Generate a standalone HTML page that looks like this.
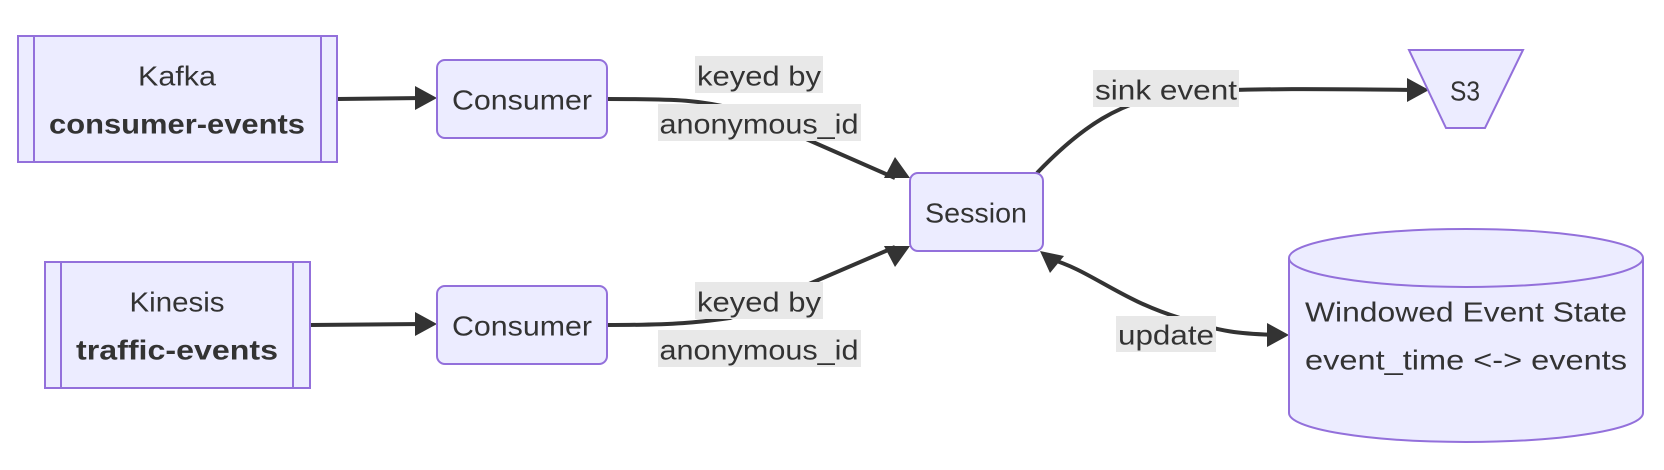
<!DOCTYPE html>
<html><head><meta charset="utf-8"><style>
html,body{margin:0;padding:0;background:#fff;}
svg{display:block;}
text{font-family:"Liberation Sans","DejaVu Sans",sans-serif;font-size:28px;fill:#333;}
</style></head><body>
<svg width="1664" height="470" viewBox="0 0 1664 470" xmlns="http://www.w3.org/2000/svg">
<g fill="none" stroke="#333" stroke-width="4">
<path d="M337,99 L424,98" />
<path d="M310,325 L424,324" />
<path d="M607,99 C680,99 700,100 740,110 L895,178" />
<path d="M607,325 C680,325 700,322 730,318 L895,247" />
<path d="M1037,173 C1080,128 1120,100 1180,92 C1260,88 1330,89 1414,90" />
<path d="M1279,335 C1240,334 1220,332 1180,318 C1120,300 1090,270 1050,259" />
</g>
<g fill="#333">
<polygon points="437,98 415,86 415,110"/>
<polygon points="437,324 415,312 415,336"/>
<polygon points="910,178 884,178 895,157"/>
<polygon points="910,246 895,267 884,246"/>
<polygon points="1429,90 1407,78 1407,102"/>
<polygon points="1289,335 1267,323 1267,347"/>
<polygon points="1040,251 1064,256 1050,273"/>
</g>
<g fill="#ECECFF" stroke="#9370DB" stroke-width="2">
<rect x="18" y="36" width="319" height="126"/>
<line x1="34" y1="36" x2="34" y2="162"/><line x1="321" y1="36" x2="321" y2="162"/>
<rect x="45" y="262" width="265" height="126"/>
<line x1="61" y1="262" x2="61" y2="388"/><line x1="293" y1="262" x2="293" y2="388"/>
<rect x="437" y="60" width="170" height="78" rx="8"/>
<rect x="437" y="286" width="170" height="78" rx="8"/>
<rect x="910" y="173" width="133" height="78" rx="8"/>
<polygon points="1409,50 1523,50 1485,128 1446,128"/>
<path d="M1289,258 L1289,413 A177,29 0 0 0 1643,413 L1643,258 A177,29 0 0 0 1289,258 A177,29 0 0 0 1643,258"/>
</g>
<g fill="#e8e8e8">
<rect x="695" y="56" width="128" height="37"/>
<rect x="658" y="104" width="203" height="37"/>
<rect x="695" y="282" width="128" height="37"/>
<rect x="658" y="330" width="203" height="37"/>
<rect x="1093" y="70" width="146" height="37"/>
<rect x="1116" y="316" width="100" height="36"/>
</g>
<g text-anchor="middle" dominant-baseline="central">
<text x="177" y="76" textLength="78" lengthAdjust="spacingAndGlyphs">Kafka</text>
<text x="177" y="124" font-weight="bold" textLength="256" lengthAdjust="spacingAndGlyphs">consumer-events</text>
<text x="177" y="302" textLength="95" lengthAdjust="spacingAndGlyphs">Kinesis</text>
<text x="177" y="350" font-weight="bold" textLength="202" lengthAdjust="spacingAndGlyphs">traffic-events</text>
<text x="522" y="100" textLength="140" lengthAdjust="spacingAndGlyphs">Consumer</text>
<text x="522" y="326" textLength="140" lengthAdjust="spacingAndGlyphs">Consumer</text>
<text x="976" y="213" textLength="102" lengthAdjust="spacingAndGlyphs">Session</text>
<text x="1465" y="91" textLength="30" lengthAdjust="spacingAndGlyphs">S3</text>
<text x="759" y="76" textLength="124" lengthAdjust="spacingAndGlyphs">keyed by</text>
<text x="759" y="124" textLength="199" lengthAdjust="spacingAndGlyphs">anonymous_id</text>
<text x="759" y="302" textLength="124" lengthAdjust="spacingAndGlyphs">keyed by</text>
<text x="759" y="350" textLength="199" lengthAdjust="spacingAndGlyphs">anonymous_id</text>
<text x="1166" y="90" textLength="142" lengthAdjust="spacingAndGlyphs">sink event</text>
<text x="1166" y="335" textLength="96" lengthAdjust="spacingAndGlyphs">update</text>
<text x="1466" y="312" textLength="322" lengthAdjust="spacingAndGlyphs">Windowed Event State</text>
<text x="1466" y="360" textLength="322" lengthAdjust="spacingAndGlyphs">event_time &lt;-&gt; events</text>
</g>
</svg>
</body></html>
